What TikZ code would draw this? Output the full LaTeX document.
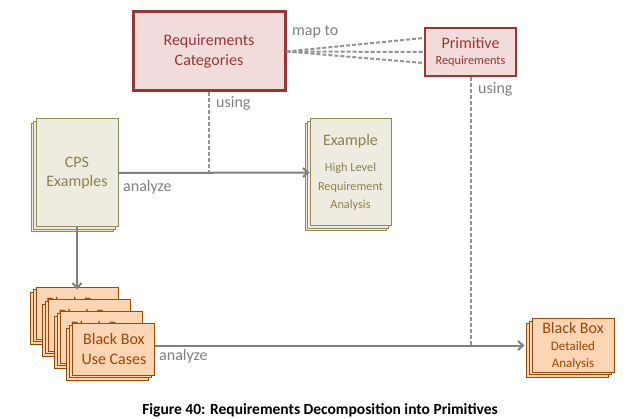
\documentclass[tikz,border=0pt]{standalone}
\usepackage{fontspec}
\setmainfont{Carlito}
\usetikzlibrary{shadows,arrows.meta}

\definecolor{redline}{HTML}{953735}
\definecolor{redfill}{HTML}{F2DCDB}
\definecolor{oliveline}{HTML}{948A54}
\definecolor{olivefill}{HTML}{EEECE1}
\definecolor{oliveText}{HTML}{8C8050}
\definecolor{brownline}{HTML}{984807}
\definecolor{orangefill}{HTML}{FCD5B5}
\definecolor{flowgray}{HTML}{808080}

\newcommand\txtbig{\fontsize{16}{19.5}\selectfont}
\newcommand\txtsmall{\fontsize{12.3}{15}\selectfont}
\newcommand\txtmid{\fontsize{13}{15}\selectfont}

\tikzset{
  redbox/.style={draw=redline, fill=redfill, line width=3pt, text=redline, align=center, font=\txtbig},
  olivebox/.style={draw=oliveline, fill=olivefill, line width=1pt, text=oliveText, align=center, font=\txtbig,
    minimum width=82, minimum height=108,
    double copy shadow={shadow xshift=-2.5pt, shadow yshift=-2.2pt}},
  orangebox/.style={draw=brownline, fill=orangefill, line width=1pt, text=brownline, align=center, font=\txtbig,
    minimum width=82, minimum height=52,
    double copy shadow={shadow xshift=-3pt, shadow yshift=-2.5pt}},
  flow/.style={draw=flowgray, line width=2pt, -{Straight Barb[length=5pt,width=9pt]}},
  dashline/.style={draw=flowgray!85, line width=2pt, dash pattern=on 4pt off 2pt},
  lbl/.style={text=flowgray, font=\txtbig, anchor=west, inner sep=0pt}
}

\begin{document}
\begin{tikzpicture}[x=1pt,y=-1pt]
\useasboundingbox (0,0) rectangle (644,419);

\node[redbox, minimum width=152, minimum height=79] (reqcat) at (209,51.5) {Requirements\\Categories};
\node[redbox, minimum width=91, minimum height=48, line width=2.5pt] (prim) at (470.5,52) {Primitive\\[-3pt]{\txtsmall Requirements}};

\node[olivebox] (cps) at (77,173) {CPS\\Examples};
\node[olivebox, minimum width=81, minimum height=107] (example) at (350.5,172.5) {Example\\[7pt]{\txtsmall High Level}\\[-1pt]{\txtsmall Requirement}\\[-1pt]{\txtsmall Analysis}};

\foreach \i in {1,...,4}
  \node[orangebox] (usecase\i) at ({77+12.3*(\i-1)},{313+12*(\i-1)}) {Black Box\\Use Cases};
\node[orangebox, minimum height=51] (detail) at (573,345.5) {Black Box\\[-2pt]{\txtmid Detailed}\\[-3pt]{\txtmid Analysis}};

% dashed links
\draw[dashline] (reqcat.east) -- ([yshift=14pt]prim.west);
\draw[dashline] (reqcat.east) -- (prim.west);
\draw[dashline] (reqcat.east) -- ([yshift=-11pt]prim.west);
\draw[dashline] (reqcat.south) -- (reqcat.south |- cps.east);
\draw[dashline] (prim.south) -- (prim.south |- detail.west);

% flows
\draw[flow] (cps.east) -- (example.west);
\draw[flow] (cps.south) -- ([yshift=-3pt]usecase1.north);
\draw[flow] (usecase4.east |- detail.west) -- ([xshift=-7pt]detail.west);

\node[lbl] (mapto) at (292,32) {map to};
\node[lbl] (using1) at (216,103) {using};
\node[lbl] (using2) at (478,89) {using};
\node[lbl] (analyze1) at (123,187) {analyze};
\node[lbl] (analyze2) at (159,356) {analyze};

\node[font=\fontsize{15.5}{18}\selectfont\bfseries] (caption) at (320,410) {Figure 40: Requirements Decomposition into Primitives};
\end{tikzpicture}
\end{document}
